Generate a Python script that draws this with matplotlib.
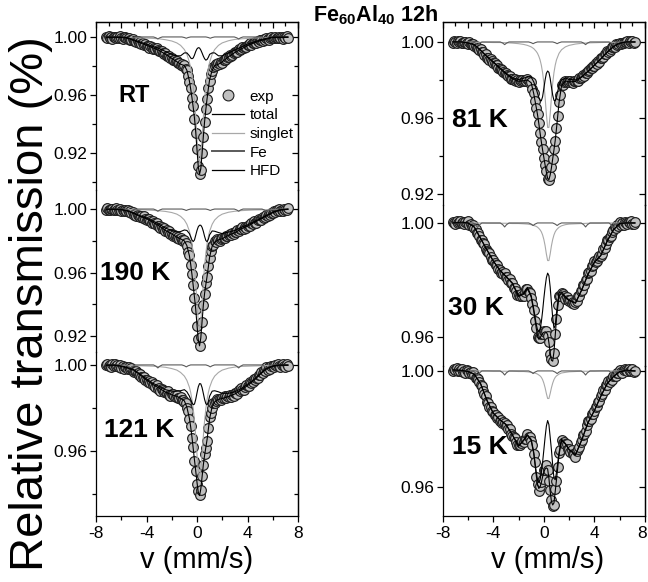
import numpy as np
import matplotlib
matplotlib.use("Agg")
import matplotlib.pyplot as plt
import matplotlib.transforms as mtransforms
from matplotlib.lines import Line2D
from matplotlib.ticker import MultipleLocator, FormatStrFormatter

plt.rcParams['font.family'] = ['Liberation Sans', 'DejaVu Sans']
plt.rcParams['axes.unicode_minus'] = False
plt.rcParams['mathtext.fontset'] = 'custom'
plt.rcParams['mathtext.rm'] = 'Liberation Sans'
plt.rcParams['mathtext.bf'] = 'Liberation Sans:bold'

# ---------------------------------------------------------------- data
# velocity channels of the measured spectra (mm/s)
v_exp = np.linspace(-7.2, 7.2, 145)

# velocity points of the fitted sub-spectra (mm/s)
v_fit = [-7.2, -6.5, -6.0, -5.5, -5.0, -4.5, -4.0, -3.5, -3.0, -2.5,
         -2.0, -1.6, -1.3, -1.0, -0.8, -0.6, -0.5, -0.4, -0.3, -0.2,
         -0.1, 0.0, 0.1, 0.2, 0.3, 0.4, 0.5, 0.6, 0.7, 0.8,
         0.9, 1.0, 1.2, 1.4, 1.7, 2.0, 2.5, 3.0, 3.5, 4.0,
         4.5, 5.0, 5.5, 6.0, 6.5, 7.2]

# alpha-Fe sextet sub-spectrum (same in every spectrum)
v_fe = [-7.2, -5.6, -5.4, -5.25, -5.1, -4.9, -3.45, -3.25, -3.1, -2.95,
        -2.75, -1.2, -1.0, -0.85, -0.7, -0.5, 0.7, 0.9, 1.05, 1.2,
        1.4, 2.95, 3.15, 3.3, 3.45, 3.65, 5.15, 5.35, 5.5, 5.65,
        5.85, 7.2]
fe_line = [1.0, 1.0, 0.9993, 0.9984, 0.9993, 1.0, 1.0, 0.9994, 0.9986, 0.9994,
           1.0, 1.0, 0.9996, 0.9991, 0.9996, 1.0, 1.0, 0.9996, 0.9991, 0.9996,
           1.0, 1.0, 0.9994, 0.9986, 0.9994, 1.0, 1.0, 0.9993, 0.9984, 0.9993,
           1.0, 1.0]

# ---- RT
exp_RT = [1.0002, 0.9994, 1.0004, 0.9991, 0.9999, 0.9989, 1.0001, 0.9998, 0.9992, 1.0003,
          0.9994, 1.0004, 0.9992, 0.9988, 0.9997, 0.9998, 0.9991, 0.9985, 0.9995, 0.9982,
          0.9981, 0.9984, 0.9970, 0.9974, 0.9962, 0.9969, 0.9960, 0.9967, 0.9952, 0.9957,
          0.9946, 0.9952, 0.9936, 0.9941, 0.9927, 0.9936, 0.9929, 0.9920, 0.9927, 0.9916,
          0.9922, 0.9907, 0.9900, 0.9905, 0.9902, 0.9890, 0.9880, 0.9888, 0.9872, 0.9869,
          0.9870, 0.9853, 0.9854, 0.9839, 0.9844, 0.9833, 0.9837, 0.9819, 0.9823, 0.9809,
          0.9816, 0.9800, 0.9805, 0.9779, 0.9774, 0.9734, 0.9691, 0.9647, 0.9580, 0.9523,
          0.9436, 0.9336, 0.9225, 0.9112, 0.9053, 0.9085, 0.9201, 0.9308, 0.9415, 0.9506,
          0.9572, 0.9648, 0.9699, 0.9742, 0.9768, 0.9795, 0.9799, 0.9811, 0.9806, 0.9819,
          0.9812, 0.9825, 0.9821, 0.9840, 0.9844, 0.9845, 0.9863, 0.9862, 0.9878, 0.9872,
          0.9874, 0.9890, 0.9898, 0.9897, 0.9897, 0.9914, 0.9909, 0.9917, 0.9928, 0.9921,
          0.9933, 0.9928, 0.9944, 0.9942, 0.9955, 0.9947, 0.9959, 0.9955, 0.9968, 0.9958,
          0.9970, 0.9963, 0.9978, 0.9977, 0.9973, 0.9987, 0.9981, 0.9993, 0.9983, 0.9982,
          0.9995, 0.9999, 0.9995, 0.9990, 1.0003, 0.9993, 0.9996, 1.0002, 0.9991, 0.9998,
          0.9989, 1.0001, 0.9995, 1.0005, 0.9993]
total_RT = [0.9997, 0.9997, 0.9996, 0.9991, 0.9975, 0.9959, 0.9942, 0.9925, 0.9907, 0.9881,
            0.9852, 0.9829, 0.9812, 0.9803, 0.9770, 0.9696, 0.9641, 0.9582, 0.9515, 0.9440,
            0.9343, 0.9222, 0.9107, 0.9054, 0.9091, 0.9194, 0.9311, 0.9415, 0.9500, 0.9577,
            0.9646, 0.9706, 0.9770, 0.9803, 0.9812, 0.9829, 0.9864, 0.9893, 0.9917, 0.9940,
            0.9958, 0.9974, 0.9985, 0.9996, 0.9996, 0.9997]
hfd_RT = [1.000, 1.000, 1.000, 0.9995, 0.998, 0.9965, 0.995, 0.9935, 0.992, 0.990,
          0.988, 0.987, 0.987, 0.989, 0.989, 0.987, 0.9855, 0.985, 0.9855, 0.9875,
          0.990, 0.9918, 0.9926, 0.9924, 0.991, 0.989, 0.9868, 0.985, 0.984, 0.9845,
          0.986, 0.988, 0.989, 0.989, 0.987, 0.987, 0.989, 0.991, 0.993, 0.995,
          0.9965, 0.998, 0.999, 1.000, 1.000, 1.000]
singlet_RT = [0.9997, 0.9997, 0.9996, 0.9996, 0.9995, 0.9994, 0.9992, 0.9990, 0.9987, 0.9981,
              0.9972, 0.9959, 0.9942, 0.9913, 0.9880, 0.9826, 0.9786, 0.9732, 0.9660, 0.9565,
              0.9443, 0.9304, 0.9181, 0.9130, 0.9181, 0.9304, 0.9443, 0.9565, 0.9660, 0.9732,
              0.9786, 0.9826, 0.9880, 0.9913, 0.9942, 0.9959, 0.9974, 0.9983, 0.9987, 0.9990,
              0.9993, 0.9994, 0.9995, 0.9996, 0.9996, 0.9997]

# ---- 190 K
exp_190 = [0.9996, 1.0006, 0.9994, 0.9991, 1.0001, 1.0003, 0.9997, 0.9992, 1.0004, 0.9994,
           0.9996, 1.0002, 0.9990, 0.9995, 0.9985, 0.9994, 0.9987, 0.9995, 0.9980, 0.9986,
           0.9974, 0.9981, 0.9965, 0.9969, 0.9956, 0.9964, 0.9958, 0.9948, 0.9956, 0.9945,
           0.9953, 0.9938, 0.9932, 0.9938, 0.9935, 0.9925, 0.9915, 0.9924, 0.9909, 0.9908,
           0.9909, 0.9894, 0.9896, 0.9881, 0.9886, 0.9875, 0.9879, 0.9861, 0.9866, 0.9853,
           0.9859, 0.9841, 0.9845, 0.9830, 0.9837, 0.9829, 0.9818, 0.9825, 0.9814, 0.9820,
           0.9804, 0.9796, 0.9802, 0.9789, 0.9768, 0.9731, 0.9712, 0.9649, 0.9588, 0.9523,
           0.9440, 0.9369, 0.9263, 0.9181, 0.9136, 0.9195, 0.9286, 0.9397, 0.9465, 0.9531,
           0.9571, 0.9639, 0.9690, 0.9736, 0.9767, 0.9774, 0.9797, 0.9794, 0.9809, 0.9802,
           0.9801, 0.9814, 0.9818, 0.9816, 0.9816, 0.9833, 0.9828, 0.9835, 0.9844, 0.9836,
           0.9847, 0.9841, 0.9855, 0.9854, 0.9869, 0.9861, 0.9875, 0.9872, 0.9885, 0.9876,
           0.9887, 0.9881, 0.9896, 0.9897, 0.9896, 0.9911, 0.9908, 0.9922, 0.9914, 0.9915,
           0.9930, 0.9936, 0.9934, 0.9933, 0.9950, 0.9945, 0.9952, 0.9962, 0.9955, 0.9966,
           0.9962, 0.9977, 0.9975, 0.9988, 0.9979, 0.9991, 0.9986, 0.9999, 0.9987, 0.9996,
           0.9987, 0.9999, 0.9997, 0.9992, 1.0004]
total_190 = [0.9998, 0.9998, 0.9995, 0.9987, 0.9971, 0.9953, 0.9939, 0.9917, 0.9894, 0.9865,
             0.9843, 0.9823, 0.9812, 0.9799, 0.9769, 0.9705, 0.9652, 0.9588, 0.9517, 0.9445,
             0.9367, 0.9270, 0.9177, 0.9138, 0.9187, 0.9290, 0.9392, 0.9468, 0.9524, 0.9577,
             0.9637, 0.9698, 0.9766, 0.9791, 0.9806, 0.9813, 0.9835, 0.9851, 0.9875, 0.9892,
             0.9914, 0.9935, 0.9956, 0.9977, 0.9992, 0.9998]
hfd_190 = [1.0, 1.0, 0.9998, 0.9990, 0.9975, 0.9958, 0.9945, 0.9925, 0.9905, 0.9880,
           0.9865, 0.9855, 0.9858, 0.9868, 0.9865, 0.9845, 0.9825, 0.9805, 0.9795, 0.9805,
           0.9835, 0.9865, 0.9888, 0.9898, 0.9898, 0.9885, 0.9860, 0.9828, 0.9802, 0.9794,
           0.9810, 0.9838, 0.9862, 0.9860, 0.9852, 0.9845, 0.9855, 0.9865, 0.9885, 0.9900,
           0.9920, 0.9940, 0.9960, 0.9980, 0.9995, 1.0]
singlet_190 = [0.9998, 0.9998, 0.9997, 0.9997, 0.9996, 0.9995, 0.9994, 0.9992, 0.9989, 0.9985,
               0.9978, 0.9968, 0.9954, 0.9931, 0.9904, 0.9860, 0.9827, 0.9783, 0.9722, 0.9640,
               0.9532, 0.9405, 0.9289, 0.9240, 0.9289, 0.9405, 0.9532, 0.9640, 0.9722, 0.9783,
               0.9827, 0.9860, 0.9904, 0.9931, 0.9954, 0.9968, 0.9980, 0.9986, 0.9990, 0.9992,
               0.9994, 0.9995, 0.9996, 0.9997, 0.9997, 0.9998]

# ---- 121 K
exp_121 = [0.9998, 1.0004, 0.9993, 1.0000, 0.9991, 1.0002, 0.9996, 1.0006, 0.9993, 1.0001,
           0.9992, 1.0001, 0.9987, 0.9993, 0.9982, 0.9992, 0.9988, 0.9980, 0.9989, 0.9979,
           0.9987, 0.9973, 0.9968, 0.9974, 0.9971, 0.9961, 0.9951, 0.9960, 0.9945, 0.9944,
           0.9945, 0.9930, 0.9932, 0.9919, 0.9926, 0.9915, 0.9921, 0.9905, 0.9911, 0.9899,
           0.9906, 0.9889, 0.9894, 0.9880, 0.9889, 0.9882, 0.9873, 0.9880, 0.9869, 0.9877,
           0.9862, 0.9857, 0.9864, 0.9864, 0.9857, 0.9850, 0.9861, 0.9848, 0.9848, 0.9851,
           0.9836, 0.9839, 0.9826, 0.9822, 0.9801, 0.9785, 0.9747, 0.9717, 0.9662, 0.9619,
           0.9552, 0.9509, 0.9446, 0.9413, 0.9394, 0.9418, 0.9485, 0.9533, 0.9588, 0.9613,
           0.9647, 0.9705, 0.9756, 0.9777, 0.9800, 0.9824, 0.9825, 0.9832, 0.9842, 0.9835,
           0.9843, 0.9836, 0.9848, 0.9844, 0.9856, 0.9845, 0.9856, 0.9850, 0.9862, 0.9852,
           0.9862, 0.9855, 0.9869, 0.9870, 0.9867, 0.9882, 0.9877, 0.9891, 0.9883, 0.9884,
           0.9899, 0.9905, 0.9903, 0.9903, 0.9920, 0.9915, 0.9922, 0.9933, 0.9928, 0.9941,
           0.9937, 0.9954, 0.9954, 0.9969, 0.9962, 0.9976, 0.9973, 0.9988, 0.9977, 0.9988,
           0.9980, 0.9995, 0.9994, 0.9989, 1.0001, 0.9994, 1.0005, 0.9994, 0.9991, 1.0001,
           1.0003, 0.9997, 0.9992, 1.0005, 0.9995]
total_121 = [0.9998, 0.9998, 0.9993, 0.9985, 0.9975, 0.9953, 0.9930, 0.9909, 0.9892, 0.9874,
             0.9861, 0.9854, 0.9845, 0.9833, 0.9803, 0.9751, 0.9712, 0.9665, 0.9612, 0.9558,
             0.9507, 0.9454, 0.9409, 0.9393, 0.9423, 0.9479, 0.9535, 0.9580, 0.9617, 0.9654,
             0.9702, 0.9751, 0.9806, 0.9828, 0.9840, 0.9844, 0.9853, 0.9865, 0.9883, 0.9904,
             0.9927, 0.9956, 0.9981, 0.9993, 0.9998, 0.9998]
hfd_121 = [1.0, 1.0, 0.9995, 0.9988, 0.9978, 0.9957, 0.9935, 0.9915, 0.9900, 0.9885,
           0.9878, 0.9878, 0.9880, 0.9885, 0.9875, 0.9855, 0.9840, 0.9825, 0.9815, 0.9818,
           0.9840, 0.9870, 0.9898, 0.9913, 0.9912, 0.9895, 0.9868, 0.9840, 0.9820, 0.9814,
           0.9830, 0.9855, 0.9878, 0.9880, 0.9875, 0.9868, 0.9868, 0.9875, 0.9890, 0.9910,
           0.9932, 0.9960, 0.9984, 0.9996, 1.0, 1.0]
singlet_121 = [0.9998, 0.9998, 0.9998, 0.9997, 0.9997, 0.9996, 0.9995, 0.9994, 0.9992, 0.9989,
               0.9983, 0.9976, 0.9965, 0.9948, 0.9928, 0.9896, 0.9872, 0.9840, 0.9797, 0.9740,
               0.9667, 0.9584, 0.9511, 0.9480, 0.9511, 0.9584, 0.9667, 0.9740, 0.9797, 0.9840,
               0.9872, 0.9896, 0.9928, 0.9948, 0.9965, 0.9976, 0.9985, 0.9990, 0.9993, 0.9994,
               0.9995, 0.9996, 0.9997, 0.9997, 0.9998, 0.9998]

# ---- 81 K
exp_81 = [0.9994, 1.0003, 1.0001, 0.9996, 1.0004, 0.9999, 1.0006, 0.9997, 0.9994, 1.0000,
          1.0001, 0.9995, 0.9991, 0.9998, 0.9989, 0.9989, 0.9991, 0.9981, 0.9980, 0.9968,
          0.9970, 0.9960, 0.9961, 0.9945, 0.9946, 0.9933, 0.9934, 0.9918, 0.9917, 0.9904,
          0.9908, 0.9900, 0.9889, 0.9891, 0.9880, 0.9880, 0.9865, 0.9857, 0.9858, 0.9854,
          0.9843, 0.9834, 0.9837, 0.9825, 0.9822, 0.9820, 0.9807, 0.9807, 0.9798, 0.9804,
          0.9797, 0.9802, 0.9790, 0.9798, 0.9792, 0.9800, 0.9792, 0.9798, 0.9793, 0.9803,
          0.9796, 0.9786, 0.9789, 0.9755, 0.9734, 0.9689, 0.9650, 0.9619, 0.9576, 0.9521,
          0.9471, 0.9437, 0.9390, 0.9352, 0.9319, 0.9278, 0.9276, 0.9295, 0.9341, 0.9384,
          0.9438, 0.9479, 0.9549, 0.9610, 0.9685, 0.9721, 0.9771, 0.9772, 0.9790, 0.9796,
          0.9789, 0.9796, 0.9789, 0.9796, 0.9788, 0.9786, 0.9794, 0.9796, 0.9796, 0.9797,
          0.9811, 0.9808, 0.9815, 0.9825, 0.9823, 0.9834, 0.9834, 0.9848, 0.9850, 0.9864,
          0.9861, 0.9875, 0.9875, 0.9889, 0.9886, 0.9898, 0.9897, 0.9913, 0.9918, 0.9920,
          0.9935, 0.9937, 0.9951, 0.9948, 0.9952, 0.9965, 0.9973, 0.9974, 0.9975, 0.9987,
          0.9984, 0.9989, 0.9997, 0.9990, 0.9997, 0.9992, 1.0002, 0.9999, 1.0006, 0.9997,
          1.0004, 0.9998, 1.0005, 0.9996, 1.0001]
total_81 = [1.0, 1.0, 0.9995, 0.9985, 0.9955, 0.9922, 0.9893, 0.9862, 0.9832, 0.9806,
            0.9793, 0.9796, 0.9800, 0.9785, 0.9728, 0.9655, 0.9617, 0.9572, 0.9522, 0.9475,
            0.9432, 0.9392, 0.9352, 0.9315, 0.9282, 0.9275, 0.9300, 0.9338, 0.9385, 0.9432,
            0.9482, 0.9545, 0.9680, 0.9770, 0.9795, 0.9790, 0.9792, 0.9815, 0.9845, 0.9877,
            0.9910, 0.9945, 0.9975, 0.9993, 1.0, 1.0]
hfd_81 = [1.0, 1.0, 0.9995, 0.9986, 0.9957, 0.9924, 0.9896, 0.9865, 0.9836, 0.9812,
          0.9802, 0.9809, 0.9818, 0.9815, 0.9790, 0.9752, 0.9730, 0.9708, 0.9693, 0.9690,
          0.9712, 0.9755, 0.9800, 0.9835, 0.9847, 0.9840, 0.9808, 0.9763, 0.9720, 0.9693,
          0.9690, 0.9712, 0.9770, 0.9800, 0.9810, 0.9803, 0.9800, 0.9818, 0.9847, 0.9878,
          0.9911, 0.9946, 0.9976, 0.9994, 1.0, 1.0]
singlet_81 = [0.9999, 0.9999, 0.9999, 0.9999, 0.9998, 0.9998, 0.9997, 0.9997, 0.9996, 0.9994,
              0.9991, 0.9987, 0.9982, 0.9974, 0.9965, 0.9950, 0.9940, 0.9925, 0.9906, 0.9878,
              0.9839, 0.9783, 0.9708, 0.9619, 0.9550, 0.9550, 0.9619, 0.9708, 0.9783, 0.9839,
              0.9878, 0.9906, 0.9940, 0.9959, 0.9974, 0.9982, 0.9989, 0.9993, 0.9995, 0.9996,
              0.9997, 0.9998, 0.9998, 0.9998, 0.9999, 0.9999]

# ---- 30 K
exp_30 = [1.0004, 0.9999, 0.9997, 1.0006, 1.0000, 1.0002, 1.0007, 0.9999, 1.0003, 0.9997,
          1.0004, 1.0000, 1.0006, 0.9994, 0.9998, 0.9989, 0.9993, 0.9981, 0.9978, 0.9963,
          0.9964, 0.9954, 0.9941, 0.9941, 0.9928, 0.9927, 0.9910, 0.9900, 0.9899, 0.9893,
          0.9881, 0.9870, 0.9871, 0.9858, 0.9854, 0.9851, 0.9837, 0.9836, 0.9825, 0.9829,
          0.9820, 0.9823, 0.9809, 0.9811, 0.9800, 0.9803, 0.9789, 0.9789, 0.9773, 0.9773,
          0.9761, 0.9747, 0.9746, 0.9743, 0.9752, 0.9745, 0.9745, 0.9759, 0.9767, 0.9769,
          0.9756, 0.9755, 0.9738, 0.9715, 0.9694, 0.9656, 0.9631, 0.9600, 0.9595, 0.9595,
          0.9611, 0.9609, 0.9620, 0.9616, 0.9621, 0.9604, 0.9581, 0.9539, 0.9521, 0.9516,
          0.9544, 0.9609, 0.9664, 0.9711, 0.9742, 0.9744, 0.9754, 0.9751, 0.9742, 0.9734,
          0.9739, 0.9729, 0.9727, 0.9729, 0.9719, 0.9723, 0.9715, 0.9721, 0.9726, 0.9743,
          0.9743, 0.9760, 0.9763, 0.9781, 0.9783, 0.9799, 0.9803, 0.9823, 0.9829, 0.9833,
          0.9849, 0.9853, 0.9868, 0.9864, 0.9866, 0.9878, 0.9884, 0.9884, 0.9891, 0.9910,
          0.9913, 0.9925, 0.9939, 0.9939, 0.9952, 0.9954, 0.9970, 0.9974, 0.9986, 0.9981,
          0.9993, 0.9991, 1.0003, 0.9994, 1.0000, 0.9993, 1.0003, 1.0001, 0.9996, 1.0004,
          0.9999, 1.0006, 0.9997, 0.9995, 1.0002]
total_30 = [1.0, 1.0003, 1.0, 0.9985, 0.9945, 0.9905, 0.9866, 0.9835, 0.9812, 0.9788,
            0.9742, 0.9750, 0.9770, 0.9740, 0.9690, 0.9630, 0.9605, 0.9592, 0.9596, 0.9605,
            0.9612, 0.9616, 0.9618, 0.9616, 0.9608, 0.9580, 0.9545, 0.9518, 0.9515, 0.9548,
            0.9605, 0.9665, 0.9745, 0.9752, 0.9738, 0.9727, 0.9718, 0.9765, 0.9820, 0.9862,
            0.9885, 0.9935, 0.9975, 0.9998, 1.0, 1.0]
hfd_30 = [1.0, 1.0, 1.0, 0.9986, 0.9946, 0.9906, 0.9867, 0.9836, 0.9813, 0.9790,
          0.9745, 0.9753, 0.9774, 0.9745, 0.9698, 0.9644, 0.9625, 0.9618, 0.9626, 0.9652,
          0.9690, 0.9735, 0.9775, 0.9808, 0.9824, 0.9815, 0.9775, 0.9720, 0.9668, 0.9630,
          0.9640, 0.9685, 0.9755, 0.9758, 0.9742, 0.9730, 0.9720, 0.9766, 0.9821, 0.9862,
          0.9886, 0.9936, 0.9976, 0.9999, 1.0, 1.0]
singlet_30 = [1.0, 1.0, 1.0, 1.0, 1.0, 0.9999, 0.9999, 0.9999, 0.9999, 0.9998,
              0.9998, 0.9997, 0.9996, 0.9994, 0.9991, 0.9988, 0.9985, 0.9981, 0.9976, 0.9969,
              0.9958, 0.9942, 0.9920, 0.9891, 0.9868, 0.9868, 0.9891, 0.9920, 0.9942, 0.9958,
              0.9969, 0.9976, 0.9985, 0.9990, 0.9994, 0.9996, 0.9997, 0.9998, 0.9999, 0.9999,
              0.9999, 1.0, 1.0, 1.0, 1.0, 1.0]

# ---- 15 K
exp_15 = [0.9999, 1.0007, 1.0002, 1.0009, 1.0000, 1.0007, 1.0000, 1.0007, 0.9997, 1.0001,
          0.9994, 1.0002, 0.9999, 0.9992, 0.9998, 0.9991, 0.9996, 0.9985, 0.9976, 0.9977,
          0.9972, 0.9961, 0.9951, 0.9949, 0.9930, 0.9921, 0.9913, 0.9894, 0.9890, 0.9875,
          0.9875, 0.9862, 0.9860, 0.9847, 0.9849, 0.9839, 0.9841, 0.9828, 0.9830, 0.9819,
          0.9825, 0.9819, 0.9811, 0.9812, 0.9800, 0.9800, 0.9784, 0.9775, 0.9774, 0.9768,
          0.9755, 0.9744, 0.9745, 0.9743, 0.9750, 0.9759, 0.9756, 0.9767, 0.9767, 0.9781,
          0.9771, 0.9772, 0.9757, 0.9744, 0.9712, 0.9686, 0.9634, 0.9612, 0.9586, 0.9605,
          0.9617, 0.9629, 0.9658, 0.9660, 0.9675, 0.9657, 0.9622, 0.9588, 0.9556, 0.9536,
          0.9539, 0.9593, 0.9622, 0.9668, 0.9716, 0.9729, 0.9762, 0.9751, 0.9755, 0.9747,
          0.9747, 0.9732, 0.9732, 0.9722, 0.9726, 0.9713, 0.9715, 0.9704, 0.9723, 0.9732,
          0.9737, 0.9756, 0.9761, 0.9780, 0.9783, 0.9793, 0.9812, 0.9826, 0.9829, 0.9834,
          0.9852, 0.9853, 0.9863, 0.9877, 0.9879, 0.9893, 0.9897, 0.9915, 0.9920, 0.9935,
          0.9935, 0.9950, 0.9953, 0.9965, 0.9961, 0.9971, 0.9969, 0.9983, 0.9984, 0.9983,
          0.9994, 0.9993, 1.0003, 0.9995, 0.9994, 1.0003, 1.0006, 1.0002, 0.9999, 1.0007,
          1.0000, 1.0001, 1.0005, 0.9996, 1.0001]
total_15 = [1.0004, 1.0002, 0.9998, 0.9988, 0.9955, 0.9898, 0.9854, 0.9832, 0.9815, 0.9780,
            0.9740, 0.9760, 0.9778, 0.9760, 0.9715, 0.9640, 0.9610, 0.9595, 0.9600, 0.9615,
            0.9635, 0.9652, 0.9662, 0.9666, 0.9662, 0.9630, 0.9585, 0.9550, 0.9538, 0.9545,
            0.9585, 0.9625, 0.9710, 0.9760, 0.9748, 0.9728, 0.9710, 0.9762, 0.9822, 0.9863,
            0.9912, 0.9955, 0.9980, 0.9997, 1.0003, 1.0]
hfd_15 = [1.0, 1.0, 0.9999, 0.9989, 0.9956, 0.9899, 0.9855, 0.9833, 0.9816, 0.9781,
          0.9742, 0.9762, 0.9780, 0.9764, 0.9720, 0.9650, 0.9625, 0.9615, 0.9625, 0.9650,
          0.9685, 0.9728, 0.9772, 0.9810, 0.9829, 0.9815, 0.9772, 0.9728, 0.9675, 0.9630,
          0.9625, 0.9650, 0.9718, 0.9765, 0.9750, 0.9730, 0.9711, 0.9763, 0.9823, 0.9864,
          0.9913, 0.9956, 0.9981, 0.9998, 1.0, 1.0]
singlet_15 = [1.0, 1.0, 1.0, 1.0, 1.0, 1.0, 0.9999, 0.9999, 0.9999, 0.9999,
              0.9998, 0.9998, 0.9997, 0.9995, 0.9994, 0.9991, 0.9989, 0.9986, 0.9983, 0.9978,
              0.9970, 0.9958, 0.9942, 0.9922, 0.9905, 0.9905, 0.9922, 0.9942, 0.9958, 0.9970,
              0.9978, 0.9983, 0.9989, 0.9993, 0.9995, 0.9997, 0.9998, 0.9999, 0.9999, 0.9999,
              1.0, 1.0, 1.0, 1.0, 1.0, 1.0]

labels = ['RT', '190 K', '121 K', '81 K', '30 K', '15 K']
x_ticks = [-8, -4, 0, 4, 8]

# ---------------------------------------------------------------- layout
W, H = 648, 582
fig = plt.figure(figsize=(W / 100, H / 100), dpi=100)
fig.patch.set_facecolor('white')

def rect(x0, x1, ytop, ybot):
    return [x0 / W, 1 - ybot / H, (x1 - x0) / W, (ybot - ytop) / H]

LX0, LX1 = 96, 298
RX0, RX1 = 442.7, 645

panels = [
    dict(exp=exp_RT, total=total_RT, hfd=hfd_RT, singlet=singlet_RT,
         rect=rect(LX0, LX1, 22, 190), ylim=(0.8945, 1.0103), pos='top',
         ticks=[0.92, 0.96, 1.00], lab=(0.109, 0.565), fs=17),
    dict(exp=exp_190, total=total_190, hfd=hfd_190, singlet=singlet_190,
         rect=rect(LX0, LX1, 190, 352), ylim=(0.9099, 1.012), pos='mid',
         ticks=[0.92, 0.96, 1.00], lab=(0.02, 0.488), fs=19),
    dict(exp=exp_121, total=total_121, hfd=hfd_121, singlet=singlet_121,
         rect=rect(LX0, LX1, 352, 516), ylim=(0.9298, 1.006), pos='bot',
         ticks=[0.96, 1.00], lab=(0.04, 0.524), fs=19),
    dict(exp=exp_81, total=total_81, hfd=hfd_81, singlet=singlet_81,
         rect=rect(RX0, RX1, 22, 205), ylim=(0.9142, 1.0105), pos='top',
         ticks=[0.92, 0.96, 1.00], lab=(0.046, 0.464), fs=19),
    dict(exp=exp_30, total=total_30, hfd=hfd_30, singlet=singlet_30,
         rect=rect(RX0, RX1, 205, 366), ylim=(0.9498, 1.0063), pos='mid',
         ticks=[0.96, 1.00], lab=(0.026, 0.36), fs=19),
    dict(exp=exp_15, total=total_15, hfd=hfd_15, singlet=singlet_15,
         rect=rect(RX0, RX1, 366, 516), ylim=(0.95, 1.0017), pos='bot',
         ticks=[0.96, 1.00], lab=(0.046, 0.46), fs=19),
]

FACE, EDGE = '#c0c0c0', '#1e1e1e'
C_SINGLET, C_FE = '#a8a8a8', '#5a5a5a'
TICK_FS = 12.5

axes = []
for p, name in zip(panels, labels):
    ax = fig.add_axes(p['rect'])
    ax.patch.set_visible(False)
    ax.plot(v_exp, p['exp'], ls='none', marker='o', ms=7.0, mfc=FACE, mec=EDGE,
            mew=0.85, clip_on=False, zorder=2)
    ax.plot(v_fit, p['singlet'], color=C_SINGLET, lw=0.8, zorder=3)
    ax.plot(v_fe, fe_line, color=C_FE, lw=0.8, zorder=3)
    ax.plot(v_fit, p['hfd'], color='black', lw=0.8, zorder=4)
    ax.plot(v_fit, p['total'], color='black', lw=0.8, zorder=4)
    ax.set_xlim(-8, 8)
    ax.set_ylim(*p['ylim'])

    for s in ax.spines.values():
        s.set_linewidth(0.9)
    if p['pos'] != 'top':
        ax.spines['top'].set_visible(False)
    if p['pos'] != 'bot':
        ax.spines['bottom'].set_visible(False)

    # y axis: outward ticks with labels on the left, inward mirror on the right
    ax.set_yticks(p['ticks'])
    ax.yaxis.set_minor_locator(MultipleLocator(0.02))
    ax.yaxis.set_major_formatter(FormatStrFormatter('%.2f'))
    ax.tick_params(axis='y', which='both', direction='out', left=True, right=False,
                   labelsize=TICK_FS, pad=2, width=0.9)
    ax.tick_params(axis='y', which='major', length=4)
    ax.tick_params(axis='y', which='minor', length=3)
    ry = ax.secondary_yaxis('right')
    ry.set_yticks(p['ticks'])
    ry.yaxis.set_minor_locator(MultipleLocator(0.02))
    ry.tick_params(axis='y', which='both', direction='in', labelright=False, width=0.9)
    ry.tick_params(axis='y', which='major', length=4)
    ry.tick_params(axis='y', which='minor', length=3)
    ry.spines['right'].set_linewidth(0.9)

    # x axis
    ax.xaxis.set_major_locator(MultipleLocator(4))
    ax.xaxis.set_minor_locator(MultipleLocator(2))
    if p['pos'] == 'bot':
        ax.set_xticks(x_ticks)
        ax.tick_params(axis='x', which='both', direction='out', bottom=True, top=False,
                       labelsize=TICK_FS, pad=3, width=0.9)
        ax.tick_params(axis='x', which='major', length=4)
        ax.tick_params(axis='x', which='minor', length=3)
    else:
        ax.tick_params(axis='x', which='both', bottom=False, top=False,
                       labelbottom=False)
    if p['pos'] == 'top':
        tx = ax.secondary_xaxis('top')
        tx.xaxis.set_major_locator(MultipleLocator(2))
        tx.xaxis.set_minor_locator(MultipleLocator(1))
        tx.tick_params(axis='x', which='both', direction='in', labeltop=False, width=0.9)
        tx.tick_params(axis='x', which='major', length=4)
        tx.tick_params(axis='x', which='minor', length=3)
        tx.spines['top'].set_linewidth(0.9)

    ax.text(p['lab'][0], p['lab'][1], name, transform=ax.transAxes,
            fontsize=p['fs'], fontweight='bold', ha='left', va='center', zorder=6)
    axes.append(ax)

# keep the last velocity label of the right column inside the canvas
fig.canvas.draw()
last = axes[5].get_xticklabels()[-1]
last.set_transform(last.get_transform() +
                   mtransforms.ScaledTranslation(-3 / 100, 0, fig.dpi_scale_trans))

# legend of the sub-spectra
handles = [
    Line2D([], [], ls='none', marker='o', ms=7.8, mfc=FACE, mec=EDGE, mew=0.8),
    Line2D([], [], color='black', lw=0.9),
    Line2D([], [], color=C_SINGLET, lw=0.9),
    Line2D([], [], color=C_FE, lw=1.4),
    Line2D([], [], color='black', lw=0.9),
]
axes[0].legend(handles, ['exp', 'total', 'singlet', 'Fe', 'HFD'],
               loc='upper left', bbox_to_anchor=(0.575, 0.598), frameon=False,
               fontsize=11, handlelength=2.1, handletextpad=0.35,
               labelspacing=0.31, borderpad=0, borderaxespad=0)

fig.text(313 / W, 1 - 15 / H, r'$\mathbf{Fe_{60}Al_{40}}$ 12h', fontsize=15.5,
         fontweight='bold', ha='left', va='center')
fig.text(31 / W, 1 - 304 / H, 'Relative transmission (%)', rotation=90,
         fontsize=34, ha='center', va='center')
fig.text(197 / W, 1 - 560 / H, 'v (mm/s)', fontsize=21, ha='center', va='center')
fig.text(548 / W, 1 - 560 / H, 'v (mm/s)', fontsize=21, ha='center', va='center')

fig.savefig('out.png', dpi=100)
